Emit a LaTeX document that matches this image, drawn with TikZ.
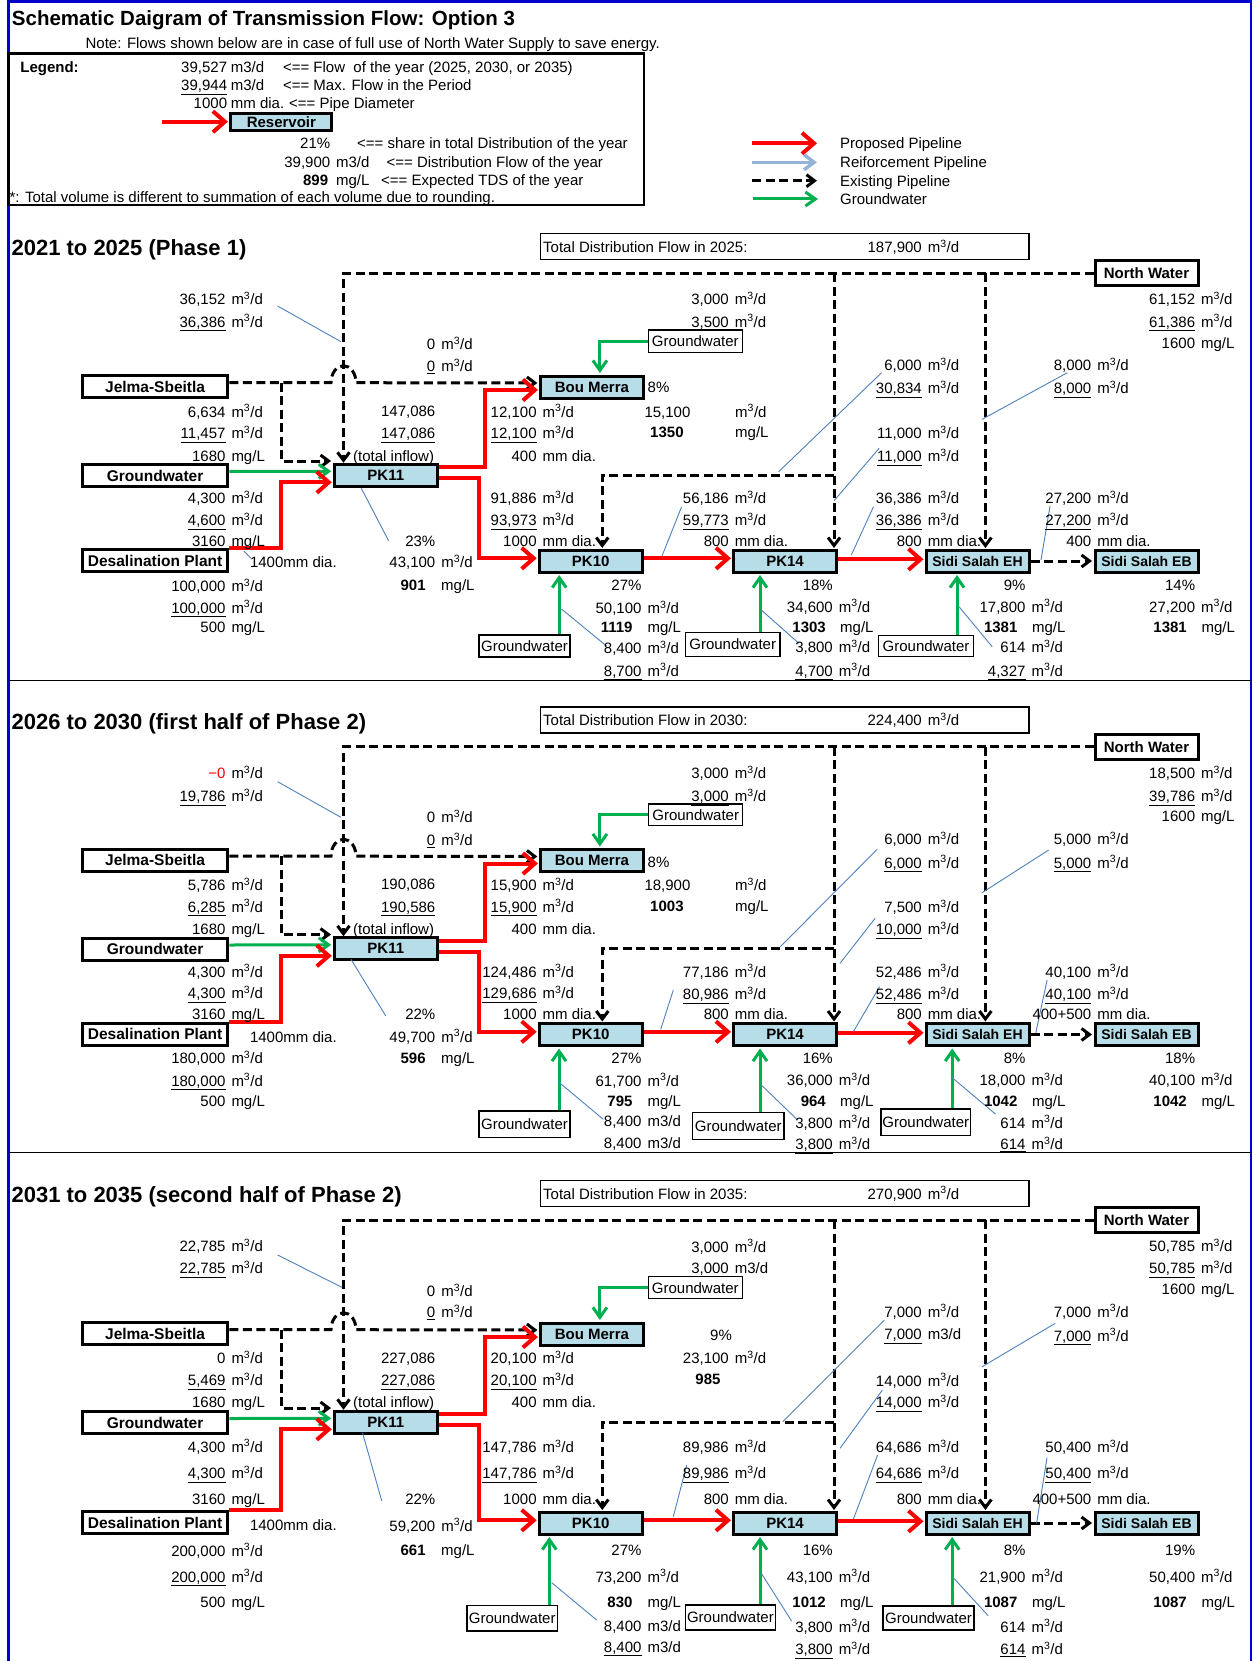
\documentclass[tikz,border=0pt]{standalone}
\usepackage{fontspec}
\setmainfont{Liberation Sans}
\usetikzlibrary{arrows.meta}
\definecolor{lb}{HTML}{B7DDE8}
\definecolor{gr}{HTML}{00B050}
\definecolor{ldrc}{HTML}{4F81BD}
\definecolor{rf}{HTML}{95B3D7}
\definecolor{frm}{HTML}{0000CC}
\newcounter{tn}
\newcommand\mcd{m\textsuperscript{3}/d}
\newcommand\QQ[5]{\stepcounter{tn}%
 \node[anchor=base east] (qa\thetn) at (#1,#3+5.4) {#4};%
 \node[anchor=base west] (qb\thetn) at (#2,#3+5.4) {#5};}
\newcommand\Q[4]{\QQ{#1}{#1+5.6}{#2}{#3}{#4}}
\newcommand\Qr[3]{\stepcounter{tn}\node[anchor=base east] (qr\thetn) at (#1,#2+5.4) {#3};}
\newcommand\Ql[3]{\stepcounter{tn}\node[anchor=base west] (ql\thetn) at (#1,#2+5.4) {#3};}
\newcommand\Qc[3]{\stepcounter{tn}\node[anchor=base] (qc\thetn) at (#1,#2+5.4) {#3};}
\newcommand\Ld[4]{\draw[ldr] (#1,#2) -- (#3,#4);}
\newcommand\GW[7]{%
 \node[gwbox,minimum width=#4pt,minimum height=#7pt] (#1) at (#2,#3) {Groundwater};%
 \path (#5,0) coordinate (#1x);%
 \draw[gwl,shorten >=1.5pt] (#1x |- #1.north) -- (#1x |- #6.south);}
\tikzset{
 every node/.style={font=\fontsize{15}{17}\selectfont, inner sep=0pt},
 src/.style={draw, line width=3pt, fill=white, minimum width=145.5pt, minimum height=22pt, font=\fontsize{15.5}{17}\selectfont\bfseries},
 res/.style={draw, line width=3pt, fill=lb, minimum width=103pt, minimum height=22pt, font=\fontsize{15}{17}\selectfont\bfseries},
 gwbox/.style={draw, line width=1.5pt, fill=white, minimum width=92pt, minimum height=21pt},
 totbox/.style={draw, line width=1.5pt, minimum width=488.5pt, minimum height=26pt},
 prop/.style={draw=red, line width=4pt, -{Straight Barb[length=12pt,width=21pt]}, shorten >=1pt},
 gwl/.style={draw=gr, line width=3pt, -{Straight Barb[length=10pt,width=14pt]}},
 exist/.style={draw=black, line width=3pt, dash pattern=on 9pt off 4.5pt},
 exa/.style={exist, -{Straight Barb[length=8pt,width=12pt]}},
 ldr/.style={draw=ldrc, line width=0.9pt},
 phtitle/.style={anchor=base west, font=\fontsize{22}{24}\selectfont\bfseries},
}
\newcommand\Geom[3]{%
\begin{scope}[shift={(0,#2)}]
\node[src] (jel-#1) at (155.1,386.7) {Jelma-Sbeitla};
\node[src] (gwl-#1) at (155.1,475.5) {Groundwater};
\node[src] (des-#1) at (155.1,560.8+#3) {Desalination Plant};
\node[res] (pk11-#1) at (385.8,475.3) {PK11};
\node[res] (bm-#1) at (591.9,387) {Bou Merra};
\node[res] (pk10-#1) at (590.7,561+#3) {PK10};
\node[res] (pk14-#1) at (785,561+#3) {PK14};
\node[res,font=\fontsize{14}{16}\selectfont\bfseries] (eh-#1) at (977.5,561+#3) {Sidi Salah EH};
\node[res,font=\fontsize{14}{16}\selectfont\bfseries] (eb-#1) at (1146.5,561+#3) {Sidi Salah EB};
\node[res,fill=white,minimum height=25pt] (nw-#1) at (1146.5,273.3) {North Water};
\node[totbox] (tot-#1) at (784.75,246.4) {};
% existing pipelines
\draw[exa,shorten >=1.5pt] (nw-#1.west) -- (343.5,273.3) -- (343.5,464.3);
\draw[exa] (834,273.3) -- (834,548+#3);
\draw[exa] (985.4,273.3) -- (985.4,548+#3);
\draw[exa] (834,475) -- (602.3,475) -- (602.3,548+#3);
\draw[exa,shorten >=1.5pt] ([yshift=4pt]jel-#1.east) -- (331,382.7)
   arc[start angle=180,end angle=0,x radius=12.5pt,y radius=17pt] -- ([yshift=4pt]bm-#1.west);
\draw[exa] (281,382.7) -- (281,461) -- (331,461);
\draw[exa,shorten >=1.5pt] (eh-#1.east) -- (eb-#1.west);
% groundwater to PK11
\draw[gwl,shorten >=1.5pt] ([yshift=4pt]gwl-#1.east) -- ([yshift=4pt]pk11-#1.west);
% proposed pipelines
\draw[prop] (des-#1.north east) -- ++(52,0) |- ([yshift=-7pt]pk11-#1.west);
\draw[prop] ([yshift=8pt]pk11-#1.east) -- ++(46,0) |- ([yshift=-3pt]bm-#1.west);
\draw[prop] ([yshift=-3pt]pk11-#1.east) -- ++(40,0) |- ([yshift=2.7pt]pk10-#1.west);
\draw[prop] ([yshift=2.7pt]pk10-#1.east) -- ([yshift=2.7pt]pk14-#1.west);
\draw[prop] ([yshift=1.7pt]pk14-#1.east) -- ([yshift=1.7pt]eh-#1.west);
\end{scope}}
\begin{document}
\begin{tikzpicture}[x=1pt,y=-1pt]
\useasboundingbox (0,0) rectangle (1253,1661);
\fill[white] (0,0) rectangle (1253,1661);
% frame
\draw[frm,line width=2.5pt] (8.5,1661) -- (8.5,1.5) -- (1251,1.5) -- (1251,1661);
\draw[line width=1.5pt] (8.5,680.7) -- (1251,680.7);
\draw[line width=1.5pt] (8.5,1152.5) -- (1251,1152.5);
% header
\node[anchor=base west,font=\fontsize{20.5}{22}\selectfont\bfseries] (title) at (11.8,25.3) {Schematic Daigram of Transmission Flow: Option 3};
\Ql{85.4}{43.3}{Note: Flows shown below are in case of full use of North Water Supply to save energy.}
\draw[line width=2.5pt] (8.5,53.3) rectangle (644,205);
\node[anchor=base west,font=\fontsize{15}{17}\selectfont\bfseries] (leg) at (20.2,72.1) {Legend:};
\QQ{227.3}{230.7}{66.7}{39,527}{m3/d}
\Ql{282.8}{66.7}{<== Flow\ \ of the year (2025, 2030, or 2035)}
\QQ{227.3}{230.7}{85}{\underline{39,944}}{m3/d}
\Ql{282.8}{85}{<== Max. Flow in the Period}
\QQ{227.3}{230.7}{103.3}{1000}{mm dia.}
\Ql{289}{103.3}{<== Pipe Diameter}
\node[res,minimum height=17pt,minimum width=101pt] (resv) at (281.4,121.7) {Reservoir};
\coordinate (legA) at (162,121.7);
\draw[prop,shorten >=1.5pt] (legA) -- (resv.west);
\Qr{330.4}{143.3}{21\%}
\Ql{357}{143.3}{<== share in total Distribution of the year}
\QQ{330.4}{335.9}{161.7}{39,900}{m3/d}
\Ql{386.4}{161.7}{<== Distribution Flow of the year}
\QQ{328.3}{335.9}{180}{\bfseries 899}{mg/L}
\Ql{381}{180}{<== Expected TDS of the year}
\Ql{9.3}{197.5}{*: Total volume is different to summation of each volume due to rounding.}
% legend right
\draw[prop] (752,143.3) -- (818,143.3);
\Ql{840}{143.3}{Proposed Pipeline}
\draw[draw=rf,line width=3.5pt,-{Straight Barb[length=10pt,width=15pt]}] (752,162.3) -- (817,162.3);
\Ql{840}{162.3}{Reiforcement Pipeline}
\draw[exa] (752,180.7) -- (817,180.7);
\Ql{840}{180.7}{Existing Pipeline}
\draw[gwl] (753,199) -- (818,199);
\Ql{840}{199}{Groundwater}

%%%%%%%%%%%%%%%% PHASE 1
\Geom{1}{0}{0}
\node[phtitle] (ph1) at (11.4,256) {2021 to 2025 (Phase 1)};
\Ql{543}{247}{Total Distribution Flow in 2025:}
\Q{922}{247}{187,900}{\mcd}
\node[gwbox,minimum width=94pt,minimum height=22.5pt] (bmgw-1) at (695.3,341.2) {Groundwater};
\draw[gwl,shorten >=1.5pt] (bmgw-1.west) -| ([xshift=8pt]bm-1.north);
\GW{gwa1}{524.5}{646}{91}{559.2}{pk10-1}{22}
\GW{gwb1}{732.7}{644.5}{94.5}{760}{pk14-1}{24}
\GW{gwc1}{926}{646.2}{95.4}{957}{eh-1}{21}
\Ld{277.6}{306}{340.9}{341.7}
\Ld{361.3}{488.3}{388.6}{540.7}
\Ld{243.7}{551}{251}{558.3}
\Ld{561.5}{609}{606.5}{646}
\Ld{662}{556}{681.5}{507}
\Ld{778.7}{471.7}{881.6}{372.7}
\Ld{834}{500.7}{879.2}{448.3}
\Ld{851.3}{555}{873.5}{506.7}
\Ld{982.1}{419.3}{1067.3}{372.7}
\Ld{1041}{560}{1050}{506}
\Ld{761.3}{610}{798.8}{643.3}
\Ld{959}{606.7}{992.2}{646.7}
\Q{225.7}{299}{36,152}{\mcd}
\Q{225.7}{321.7}{\underline{36,386}}{\mcd}
\Q{225.7}{411.7}{6,634}{\mcd}
\Q{225.7}{433.3}{\underline{11,457}}{\mcd}
\Q{225.7}{456}{1680}{mg/L}
\Q{225.7}{498.3}{4,300}{\mcd}
\Q{225.7}{520}{\underline{4,600}}{\mcd}
\Q{225.7}{540.7}{3160}{mg/L}
\Q{225.7}{586}{100,000}{\mcd}
\Q{225.7}{607.7}{\underline{100,000}}{\mcd}
\Q{225.7}{626.7}{500}{mg/L}
\Ql{249.8}{562.3}{1400mm dia.}
\Q{435.5}{344.3}{0}{\mcd}
\Q{435.5}{366}{\underline{0}}{\mcd}
\Qr{435.5}{411}{147,086}
\Qr{435.5}{433.3}{\underline{147,086}}
\Ql{353}{456}{(total inflow)}
\Qr{435.5}{540.7}{23\%}
\Q{435.5}{562.3}{43,100}{\mcd}
\QQ{425.8}{441}{585}{\bfseries 901}{mg/L}
\Q{536.8}{411.7}{12,100}{\mcd}
\Q{536.8}{433.3}{\underline{12,100}}{\mcd}
\Q{536.8}{456}{400}{mm dia.}
\Q{536.8}{498.3}{91,886}{\mcd}
\Q{536.8}{520}{\underline{93,973}}{\mcd}
\Q{536.8}{540.7}{1000}{mm dia.}
\Ql{647.5}{387.3}{8\%}
\QQ{690.6}{735}{411.7}{15,100}{\mcd}
\QQ{683.8}{735}{432.3}{\bfseries 1350}{mg/L}
\Q{729}{299}{3,000}{\mcd}
\Q{729}{321.7}{\underline{3,500}}{\mcd}
\Q{729}{498.3}{56,186}{\mcd}
\Q{729}{520}{\underline{59,773}}{\mcd}
\Q{729}{540.7}{800}{mm dia.}
\Q{922}{365}{6,000}{\mcd}
\Q{922}{388.3}{\underline{30,834}}{\mcd}
\Q{922}{433.3}{11,000}{\mcd}
\Q{922}{456}{\underline{11,000}}{\mcd}
\Q{922}{498.3}{36,386}{\mcd}
\Q{922}{520}{\underline{36,386}}{\mcd}
\Q{922}{540.7}{800}{mm dia.}
\Q{1091.5}{365}{8,000}{\mcd}
\Q{1091.5}{388.3}{\underline{8,000}}{\mcd}
\Q{1091.5}{498.3}{27,200}{\mcd}
\Q{1091.5}{520}{\underline{27,200}}{\mcd}
\Q{1091.5}{540.7}{400}{mm dia.}
\Q{1195.3}{299}{61,152}{\mcd}
\Q{1195.3}{321.7}{\underline{61,386}}{\mcd}
\Q{1195.3}{342.7}{1600}{mg/L}
\Qr{641.7}{585}{27\%}
\Q{641.7}{608.3}{50,100}{\mcd}
\QQ{632.7}{647.3}{627.3}{\bfseries 1119}{mg/L}
\Q{641.7}{648.3}{8,400}{\mcd}
\Q{641.7}{670.7}{\underline{8,700}}{\mcd}
\Qr{833}{585}{18\%}
\Q{833}{606.7}{34,600}{\mcd}
\QQ{826}{840}{626.7}{\bfseries 1303}{mg/L}
\Q{833}{647.3}{3,800}{\mcd}
\Q{833}{670.7}{\underline{4,700}}{\mcd}
\Qr{1025.7}{585}{9\%}
\Q{1025.7}{606.7}{17,800}{\mcd}
\QQ{1017.6}{1031.8}{626.7}{\bfseries 1381}{mg/L}
\Q{1025.7}{647.3}{614}{\mcd}
\Q{1025.7}{670.7}{\underline{4,327}}{\mcd}
\Qr{1195.3}{585}{14\%}
\Q{1195.3}{606.7}{27,200}{\mcd}
\QQ{1187}{1201.3}{626.7}{\bfseries 1381}{mg/L}

%%%%%%%%%%%%%%%% PHASE 2
\Geom{2}{473.5}{0}
\node[phtitle] (ph2) at (11.4,729.3) {2026 to 2030 (first half of Phase 2)};
\Ql{543}{720.5}{Total Distribution Flow in 2030:}
\Q{922}{720.5}{224,400}{\mcd}
\node[gwbox,minimum width=94pt,minimum height=21.5pt] (bmgw-2) at (695.7,814.7) {Groundwater};
\draw[gwl,shorten >=1.5pt] (bmgw-2.west) -| ([xshift=8pt]bm-2.north);
\GW{gwa2}{524.5}{1124.2}{91}{559}{pk10-2}{26.8}
\GW{gwb2}{738.3}{1125.9}{91.3}{760}{pk14-2}{26.8}
\GW{gwc2}{925.8}{1122.2}{89.3}{952.2}{eh-2}{26.2}
\Ld{277.6}{781.7}{340.9}{817.3}
\Ld{351}{959.3}{385.8}{1016}
\Ld{558.3}{1081.7}{603.3}{1119.3}
\Ld{660.7}{1029.3}{673.3}{990}
\Ld{780.3}{946.7}{877.2}{849.3}
\Ld{840}{963.3}{875.1}{918.3}
\Ld{853.3}{1031.7}{879.6}{986.7}
\Ld{982.1}{892.7}{1048.7}{850}
\Ld{1035.8}{1032.7}{1047.1}{980}
\Ld{761.3}{1085}{797.6}{1120}
\Ld{951}{1076.7}{995.4}{1114}
\Q{225.7}{773.3}{\textcolor{red}{−0}}{\mcd}
\Q{225.7}{796}{\underline{19,786}}{\mcd}
\Q{225.7}{885}{5,786}{\mcd}
\Q{225.7}{906.7}{\underline{6,285}}{\mcd}
\Q{225.7}{929}{1680}{mg/L}
\Q{225.7}{971.7}{4,300}{\mcd}
\Q{225.7}{993.3}{\underline{4,300}}{\mcd}
\Q{225.7}{1014}{3160}{mg/L}
\Q{225.7}{1058.3}{180,000}{\mcd}
\Q{225.7}{1080.7}{\underline{180,000}}{\mcd}
\Q{225.7}{1100.7}{500}{mg/L}
\Ql{249.8}{1036.7}{1400mm dia.}
\Q{435.5}{817.3}{0}{\mcd}
\Q{435.5}{840}{\underline{0}}{\mcd}
\Qr{435.5}{884}{190,086}
\Qr{435.5}{906.7}{\underline{190,586}}
\Ql{353}{929}{(total inflow)}
\Qr{435.5}{1014}{22\%}
\Q{435.5}{1036.7}{49,700}{\mcd}
\QQ{425.8}{441}{1058.3}{\bfseries 596}{mg/L}
\Q{536.8}{885}{15,900}{\mcd}
\Q{536.8}{906.7}{\underline{15,900}}{\mcd}
\Q{536.8}{929}{400}{mm dia.}
\Q{536.8}{971.7}{124,486}{\mcd}
\Q{536.8}{993.3}{\underline{129,686}}{\mcd}
\Q{536.8}{1014}{1000}{mm dia.}
\Ql{647.5}{861.7}{8\%}
\QQ{690.6}{735}{885}{18,900}{\mcd}
\QQ{683.8}{735}{906}{\bfseries 1003}{mg/L}
\Q{729}{773.3}{3,000}{\mcd}
\Q{729}{796}{\underline{3,000}}{\mcd}
\Q{729}{971.7}{77,186}{\mcd}
\Q{729}{994}{\underline{80,986}}{\mcd}
\Q{729}{1014}{800}{mm dia.}
\Q{922}{839.3}{6,000}{\mcd}
\Q{922}{862.7}{\underline{6,000}}{\mcd}
\Q{922}{907.3}{7,500}{\mcd}
\Q{922}{929.3}{\underline{10,000}}{\mcd}
\Q{922}{971.7}{52,486}{\mcd}
\Q{922}{994}{\underline{52,486}}{\mcd}
\Q{922}{1014}{800}{mm dia.}
\Q{1091.5}{839.3}{5,000}{\mcd}
\Q{1091.5}{862.7}{\underline{5,000}}{\mcd}
\Q{1091.5}{971.7}{40,100}{\mcd}
\Q{1091.5}{994}{\underline{40,100}}{\mcd}
\Q{1091.5}{1014}{400+500}{mm dia.}
\Q{1195.3}{773.3}{18,500}{\mcd}
\Q{1195.3}{796}{\underline{39,786}}{\mcd}
\Q{1195.3}{816}{1600}{mg/L}
\Qr{641.7}{1058.3}{27\%}
\Q{641.7}{1080.7}{61,700}{\mcd}
\QQ{632.7}{647.3}{1100.7}{\bfseries 795}{mg/L}
\Q{641.7}{1121}{8,400}{m3/d}
\Q{641.7}{1143.3}{\underline{8,400}}{m3/d}
\Qr{833}{1058.3}{16\%}
\Q{833}{1080}{36,000}{\mcd}
\QQ{826}{840}{1100.7}{\bfseries 964}{mg/L}
\Q{833}{1122.7}{3,800}{\mcd}
\Q{833}{1144}{\underline{3,800}}{\mcd}
\Qr{1025.7}{1058.3}{8\%}
\Q{1025.7}{1080}{18,000}{\mcd}
\QQ{1017.6}{1031.8}{1100.7}{\bfseries 1042}{mg/L}
\Q{1025.7}{1122.7}{614}{\mcd}
\Q{1025.7}{1144}{\underline{614}}{\mcd}
\Qr{1195.3}{1058.3}{18\%}
\Q{1195.3}{1080}{40,100}{\mcd}
\QQ{1187}{1201.3}{1100.7}{\bfseries 1042}{mg/L}

%%%%%%%%%%%%%%%% PHASE 3
\Geom{3}{947}{15}
\node[phtitle] (ph3) at (11.4,1202.7) {2031 to 2035 (second half of Phase 2)};
\Ql{543}{1193.6}{Total Distribution Flow in 2035:}
\Q{922}{1193.6}{270,900}{\mcd}
\node[gwbox,minimum width=94pt,minimum height=22pt] (bmgw-3) at (695.3,1287.7) {Groundwater};
\draw[gwl,shorten >=1.5pt] (bmgw-3.west) -| ([xshift=8pt]bm-3.north);
\GW{gwa3}{512.2}{1618.3}{90.8}{549.3}{pk10-3}{25.2}
\GW{gwb3}{730.4}{1617.4}{90}{760}{pk14-3}{25.2}
\GW{gwc3}{928.5}{1617.9}{90.6}{952.2}{eh-3}{24.2}
\Ld{277.6}{1255}{342}{1287.3}
\Ld{362.5}{1432.7}{381.7}{1500.7}
\Ld{551.7}{1582.7}{596.7}{1620}
\Ld{673.3}{1516.7}{686.7}{1465}
\Ld{782.7}{1421.7}{884.4}{1320}
\Ld{840}{1448.3}{882.4}{1390}
\Ld{853.3}{1519.3}{877.6}{1455}
\Ld{982.1}{1366.7}{1055.2}{1323.3}
\Ld{1036.6}{1523.3}{1047}{1457.7}
\Ld{761.3}{1573.3}{791.6}{1621}
\Ld{953.9}{1578.3}{988.2}{1615.7}
\Q{225.7}{1246}{22,785}{\mcd}
\Q{225.7}{1268.3}{\underline{22,785}}{\mcd}
\Q{225.7}{1358.3}{0}{\mcd}
\Q{225.7}{1380}{\underline{5,469}}{\mcd}
\Q{225.7}{1401.7}{1680}{mg/L}
\Q{225.7}{1446.7}{4,300}{\mcd}
\Q{225.7}{1473.3}{\underline{4,300}}{\mcd}
\Q{225.7}{1499}{3160}{mg/L}
\Q{225.7}{1550.7}{200,000}{\mcd}
\Q{225.7}{1576.7}{\underline{200,000}}{\mcd}
\Q{225.7}{1601.7}{500}{mg/L}
\Ql{249.8}{1525}{1400mm dia.}
\Q{435.5}{1291}{0}{\mcd}
\Q{435.5}{1312.3}{\underline{0}}{\mcd}
\Qr{435.5}{1358.3}{227,086}
\Qr{435.5}{1380}{\underline{227,086}}
\Ql{353}{1401.7}{(total inflow)}
\Qr{435.5}{1499}{22\%}
\Q{435.5}{1525.7}{59,200}{\mcd}
\QQ{425.8}{441}{1550}{\bfseries 661}{mg/L}
\Q{536.8}{1358.3}{20,100}{\mcd}
\Q{536.8}{1380}{\underline{20,100}}{\mcd}
\Q{536.8}{1401.7}{400}{mm dia.}
\Q{536.8}{1447.3}{147,786}{\mcd}
\Q{536.8}{1473.3}{\underline{147,786}}{\mcd}
\Q{536.8}{1499}{1000}{mm dia.}
\Qc{721}{1335}{9\%}
\Q{729}{1358.3}{23,100}{\mcd}
\Qc{708}{1379.3}{\bfseries 985}
\Q{729}{1246.7}{3,000}{\mcd}
\Q{729}{1267.7}{\underline{3,000}}{m3/d}
\Q{729}{1447.3}{89,986}{\mcd}
\Q{729}{1473.3}{\underline{89,986}}{\mcd}
\Q{729}{1499}{800}{mm dia.}
\Q{922}{1311.7}{7,000}{\mcd}
\Q{922}{1334}{\underline{7,000}}{m3/d}
\Q{922}{1380.7}{14,000}{\mcd}
\Q{922}{1402.3}{\underline{14,000}}{\mcd}
\Q{922}{1447.3}{64,686}{\mcd}
\Q{922}{1473.3}{\underline{64,686}}{\mcd}
\Q{922}{1499}{800}{mm dia.}
\Q{1091.5}{1311.7}{7,000}{\mcd}
\Q{1091.5}{1335.7}{\underline{7,000}}{\mcd}
\Q{1091.5}{1447.3}{50,400}{\mcd}
\Q{1091.5}{1473.3}{\underline{50,400}}{\mcd}
\Q{1091.5}{1499}{400+500}{mm dia.}
\Q{1195.3}{1246}{50,785}{\mcd}
\Q{1195.3}{1268.3}{\underline{50,785}}{\mcd}
\Q{1195.3}{1289}{1600}{mg/L}
\Qr{641.7}{1550}{27\%}
\Q{641.7}{1576.7}{73,200}{\mcd}
\QQ{632.7}{647.3}{1602.3}{\bfseries 830}{mg/L}
\Q{641.7}{1625.7}{8,400}{m3/d}
\Q{641.7}{1646.7}{\underline{8,400}}{m3/d}
\Qr{833}{1550}{16\%}
\Q{833}{1576.7}{43,100}{\mcd}
\QQ{826}{840}{1602.3}{\bfseries 1012}{mg/L}
\Q{833}{1626.7}{3,800}{\mcd}
\Q{833}{1649}{\underline{3,800}}{\mcd}
\Qr{1025.7}{1550}{8\%}
\Q{1025.7}{1576.7}{21,900}{\mcd}
\QQ{1017.6}{1031.8}{1602.3}{\bfseries 1087}{mg/L}
\Q{1025.7}{1626.7}{614}{\mcd}
\Q{1025.7}{1649}{\underline{614}}{\mcd}
\Qr{1195.3}{1550}{19\%}
\Q{1195.3}{1576.7}{50,400}{\mcd}
\QQ{1187}{1201.3}{1602.3}{\bfseries 1087}{mg/L}
\end{tikzpicture}
\end{document}
